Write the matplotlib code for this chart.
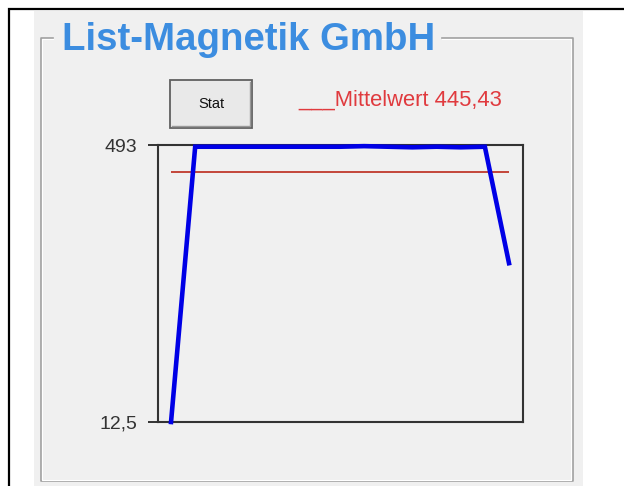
import matplotlib
matplotlib.use("Agg")
import matplotlib.pyplot as plt
from matplotlib.patches import Rectangle
from matplotlib.lines import Line2D

W, H = 624, 486

werte = [12.5, 490, 490, 490, 490, 490, 490, 490, 491, 490, 489, 490, 489, 490, 288]
mittelwert = 445.43
y_ticks = [12.5, 493]
y_labels = ["12,5", "493"]
titel = "List-Magnetik GmbH"
legende = "___Mittelwert 445,43"
knopf = "Stat"

plt.rcParams['font.family'] = ['Liberation Sans', 'DejaVu Sans']


# Pixel (von links oben) -> Figure-Koordinaten
def fx(x):
    return x / W


def fy(y):
    return 1 - y / H


def rect(fig, x0, y0, x1, y1, **kw):
    fig.patches.append(Rectangle((fx(x0), fy(y1)), (x1 - x0) / W, (y1 - y0) / H,
                                 transform=fig.transFigure, **kw))


def line(fig, xs, ys, **kw):
    fig.lines.append(Line2D([fx(x) for x in xs], [fy(y) for y in ys],
                            transform=fig.transFigure, **kw))


fig = plt.figure(figsize=(W / 100, H / 100), dpi=100)
fig.patch.set_facecolor('white')

# Rahmen und Fensterhintergrund
rect(fig, 34, 11, 583, 490, facecolor='#f0f0f0', edgecolor='none', zorder=0)
rect(fig, 9, 9, 640, 500, facecolor='none', edgecolor='black', lw=1.6, zorder=1)

# Gruppenrahmen mit Lücke für den Titel
grau = '#a0a0a0'
line(fig, [53, 41, 41, 573, 573, 442], [38, 38, 481, 481, 38, 38], color=grau, lw=1.2)
line(fig, [53, 42, 42, 571, 571, 442], [39, 39, 480, 480, 39, 39], color='white', lw=0.8)

fig.text(fx(62), fy(50), titel, fontsize=27.6, fontweight='bold', color='#3c8de0',
         va='baseline', ha='left')

# Button "Stat"
rect(fig, 170, 80, 252, 128, facecolor='#e9e9e9', edgecolor='#606060', lw=1.3, zorder=2)
line(fig, [172, 250, 250], [126, 126, 82], color='#999999', lw=1.0, zorder=3)
fig.text(fx(211), fy(104), knopf, fontsize=10.5, color='#111111', ha='center', va='center')

# Legende
fig.text(fx(298), fy(106), legende, fontsize=15.8, color='#e03a3e', va='baseline', ha='left')

# Diagramm
ax = fig.add_axes([fx(158), fy(422), (523 - 158) / W, (422 - 145) / H])
ax.set_zorder(5)
ax.set_facecolor('#f0f0f0')
x = list(range(len(werte)))
ax.hlines(mittelwert, x[0], x[-1], color='#c0392b', lw=1.3, zorder=2)
ax.plot(x, werte, color='#0000e6', lw=3.3, zorder=3, clip_on=False,
        solid_joinstyle='miter')
ax.set_xlim(-0.54, len(werte) - 1 + 0.58)
ax.set_ylim(min(y_ticks), max(y_ticks))
ax.set_xticks([])
ax.set_yticks(y_ticks, y_labels)
ax.tick_params(axis='y', length=7, width=1.4, color='#333333', pad=8,
               labelsize=14, labelcolor='#333333')
for s in ax.spines.values():
    s.set_color('#333333')
    s.set_linewidth(1.5)

fig.savefig('out.png', dpi=100)
